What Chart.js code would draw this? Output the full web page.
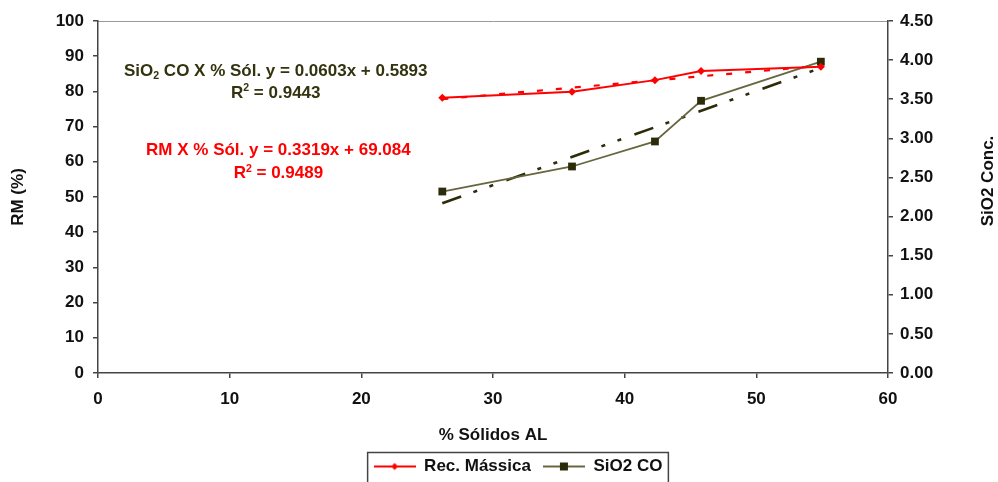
<!DOCTYPE html>
<html>
<head>
<meta charset="utf-8">
<script src="https://cdn.jsdelivr.net/npm/chart.js@4.4.1/dist/chart.umd.min.js"></script>
<style>
  html, body { margin: 0; padding: 0; background: #fff; }
  #wrap { width: 998px; height: 482px; }
</style>
</head>
<body>
<div id="wrap"><canvas id="chart"></canvas></div>
<script>
// values
const solidos    = [26.15, 36.0, 42.3, 45.8, 54.9];   // % Sólidos AL
const recMassica = [78.2, 79.9, 83.2, 85.8, 87.0];    // RM (%)
const sio2Conc   = [2.32, 2.64, 2.96, 3.48, 3.98];    // SiO2 Conc.

// trendline end points (as drawn)
const trendX     = [26.15, 54.9];
const rmTrend    = [77.8, 87.3];
const sio2Trend  = [2.17, 3.90];

const seriesNames = ['Rec. Mássica', 'SiO2 CO'];

// equation labels: text lines, colour, anchor in data units (x, RM)
const eqLabels = [
  { lines: ['SiO₂ CO X % Sól. y = 0.0603x + 0.5893', 'R² = 0.9443'], color: '#33330f', x: 13.5, y: [85.8, 79.5] },
  { lines: ['RM X % Sól. y = 0.3319x + 69.084', 'R² = 0.9489'], color: '#ff0000', x: 13.7, y: [63.4, 56.6] }
];

const FONT = "'Liberation Sans', Arial, sans-serif";
const RED = '#ff0000';
const OLIVE_LINE = '#66663f';
const OLIVE_DARK = '#2c2c0a';

const pts = (xs, ys) => xs.map((x, i) => ({ x: x, y: ys[i] }));

// legend icon: a short line with the marker in the middle
function legendIcon(lineColor, lineW, markerColor, shape) {
  const c = document.createElement('canvas');
  c.width = 42; c.height = 14;
  const g = c.getContext('2d');
  g.strokeStyle = lineColor; g.lineWidth = lineW;
  g.beginPath(); g.moveTo(0, 7); g.lineTo(42, 7); g.stroke();
  g.fillStyle = markerColor;
  if (shape === 'diamond') {
    g.beginPath(); g.moveTo(21, 3.5); g.lineTo(24.5, 7); g.lineTo(21, 10.5); g.lineTo(17.5, 7); g.closePath(); g.fill();
  } else {
    g.fillRect(17, 3, 8, 8);
  }
  return c;
}
const icons = [legendIcon(RED, 2, RED, 'diamond'), legendIcon(OLIVE_LINE, 2, OLIVE_DARK, 'square')];

// draws text where ₂ / ² become small lowered / raised digits
function drawRich(ctx, str, cx, cy, size, color) {
  const runs = [];
  for (const ch of str) {
    if (ch === '₂') runs.push({ t: '2', s: size * 0.62, dy: size * 0.28 });
    else if (ch === '²') runs.push({ t: '2', s: size * 0.62, dy: -size * 0.3 });
    else if (runs.length && runs[runs.length - 1].dy === 0) runs[runs.length - 1].t += ch;
    else runs.push({ t: ch, s: size, dy: 0 });
  }
  let total = 0;
  runs.forEach(r => { ctx.font = 'bold ' + r.s + 'px ' + FONT; r.w = ctx.measureText(r.t).width; total += r.w; });
  let x = cx - total / 2;
  ctx.fillStyle = color;
  ctx.textBaseline = 'middle';
  ctx.textAlign = 'left';
  runs.forEach(r => { ctx.font = 'bold ' + r.s + 'px ' + FONT; ctx.fillText(r.t, x, cy + r.dy); x += r.w; });
}

const extras = {
  id: 'extras',
  afterLayout(chart) {
    // legend sits a little right of centre in the original
    chart.legend.left += 19;
    chart.legend.right += 19;
  },
  afterDraw(chart) {
    const ctx = chart.ctx;
    const xs = chart.scales.x, ys = chart.scales.y;
    ctx.save();
    eqLabels.forEach(l => {
      l.lines.forEach((line, i) => drawRich(ctx, line, xs.getPixelForValue(l.x), ys.getPixelForValue(l.y[i]), 17, l.color));
    });
    // right axis title, reading bottom to top
    const a = chart.chartArea;
    ctx.translate(988, (a.top + a.bottom) / 2 - 16);
    ctx.rotate(-Math.PI / 2);
    ctx.font = 'bold 17px ' + FONT;
    ctx.fillStyle = '#111';
    ctx.textAlign = 'center';
    ctx.textBaseline = 'middle';
    ctx.fillText('SiO2 Conc.', 0, 0);
    ctx.restore();

    // legend frame
    const lg = chart.legend;
    const pad = lg.options.labels.padding;
    const lw = lg.lineWidths[0];
    const x0 = (lg.left + pad + lg.right - lw) / 2;
    const cy = lg.top + pad + 8.5;
    ctx.save();
    ctx.strokeStyle = '#444';
    ctx.lineWidth = 1.5;
    ctx.strokeRect(x0 - 6, cy - 14, lw - pad + 12, 40);
    ctx.restore();
  }
};

const axisGrid = { display: true, drawOnChartArea: false, drawTicks: true, tickLength: 5, color: '#444', lineWidth: 1.5 };
const tickFont = { family: FONT, size: 17, weight: 'bold' };

new Chart(document.getElementById('chart'), {
  type: 'line',
  data: {
    datasets: [
      {
        label: seriesNames[0], data: pts(solidos, recMassica), yAxisID: 'y',
        borderColor: RED, backgroundColor: RED, borderWidth: 2,
        pointStyle: 'rectRot', pointRadius: 4, pointBorderWidth: 0, pointBackgroundColor: RED
      },
      {
        label: seriesNames[1], data: pts(solidos, sio2Conc), yAxisID: 'y1',
        borderColor: OLIVE_LINE, backgroundColor: OLIVE_DARK, borderWidth: 1.8,
        pointStyle: 'rect', pointRadius: 5.5, pointBorderWidth: 0, pointBackgroundColor: OLIVE_DARK
      },
      {
        label: 'trend RM', data: pts(trendX, rmTrend), yAxisID: 'y',
        borderColor: RED, borderWidth: 2.2, borderDash: [6, 13], pointRadius: 0
      },
      {
        label: 'trend SiO2', data: pts(trendX, sio2Trend), yAxisID: 'y1',
        borderColor: OLIVE_DARK, borderWidth: 2.6, borderDash: [20, 13, 4, 13, 4, 14], pointRadius: 0
      }
    ]
  },
  options: {
    responsive: true,
    maintainAspectRatio: false,
    animation: false,
    layout: { padding: { top: 21, left: 0, right: 0, bottom: -3 } },
    plugins: {
      tooltip: { enabled: false },
      legend: {
        position: 'bottom',
        labels: {
          usePointStyle: true,
          pointStyleWidth: 42,
          padding: 12,
          color: '#111',
          font: tickFont,
          generateLabels: () => seriesNames.map((n, i) => ({
            text: n, pointStyle: icons[i], fillStyle: 'transparent', strokeStyle: 'transparent',
            lineWidth: 0, datasetIndex: i, fontColor: '#111'
          }))
        }
      }
    },
    scales: {
      x: {
        type: 'linear', min: 0, max: 60,
        ticks: { stepSize: 10, font: tickFont, color: '#111', padding: 11, maxRotation: 0 },
        grid: axisGrid,
        border: { display: true, color: '#444', width: 1.5 },
        title: { display: true, text: '% Sólidos AL', font: tickFont, color: '#111', padding: { top: 1, bottom: 0 } },
        afterFit: s => { s.height = 482 + 3 - 373 - s.chart.legend.height; }
      },
      xTop: {
        type: 'linear', position: 'top', min: 0, max: 60,
        ticks: { display: false },
        grid: { display: false, drawTicks: false },
        border: { display: true, color: '#999', width: 1 },
        afterFit: s => { s.height = 0; }
      },
      y: {
        type: 'linear', position: 'left', min: 0, max: 100,
        ticks: { stepSize: 10, font: tickFont, color: '#111', padding: 9 },
        grid: axisGrid,
        border: { display: true, color: '#444', width: 1.5 },
        title: { display: true, text: 'RM (%)', font: tickFont, color: '#111', padding: { top: 8, bottom: 0 } },
        afterFit: s => { s.width = 98; }
      },
      y1: {
        type: 'linear', position: 'right', min: 0, max: 4.5,
        ticks: { stepSize: 0.5, font: tickFont, color: '#111', padding: 7, callback: v => v.toFixed(2) },
        grid: axisGrid,
        border: { display: true, color: '#444', width: 1.5 },
        afterFit: s => { s.width = 110; }
      }
    }
  },
  plugins: [extras]
});
</script>
</body>
</html>
